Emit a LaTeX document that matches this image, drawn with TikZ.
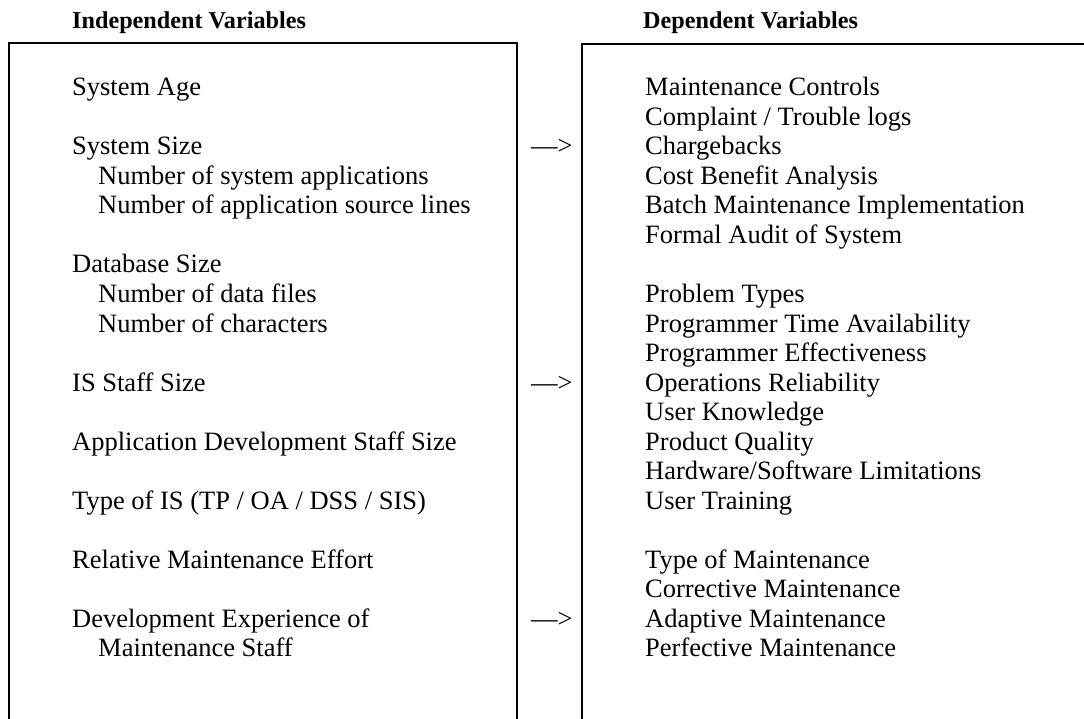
\documentclass[tikz,border=0pt]{standalone}
\usepackage{fontspec}
\setmainfont{Liberation Serif}
\begin{document}
\begin{tikzpicture}[x=1pt,y=-1pt,
  txt/.style={anchor=base west,inner sep=0pt,font=\fontsize{26.5}{30}\selectfont},
  head/.style={anchor=base west,inner sep=0pt,font=\fontsize{24.2}{26}\selectfont\bfseries},
  frame/.style={line width=1.8pt}]
\useasboundingbox (0,0) rectangle (1084,719);
\def\b{96}\def\s{29.5}
% headings
\node[head] (hind) at (72,29) {Independent Variables};
\node[head] (hdep) at (643,29) {Dependent Variables};
% frames
\draw[frame] (9,719) -- (9,43) -- (517,43) -- (517,719);
\draw[frame] (582,719) -- (582,44) -- (1084,44);
% left column
\node[txt] (l1)  at (72,\b+0*\s)  {System Age};
\node[txt] (l2)  at (72,\b+2*\s)  {System Size};
\node[txt] (l3)  at (98,\b+3*\s)  {Number of system applications};
\node[txt] (l4)  at (98,\b+4*\s)  {Number of application source lines};
\node[txt] (l5)  at (72,\b+6*\s)  {Database Size};
\node[txt] (l6)  at (98,\b+7*\s)  {Number of data files};
\node[txt] (l7)  at (98,\b+8*\s)  {Number of characters};
\node[txt] (l8)  at (72,\b+10*\s) {IS Staff Size};
\node[txt] (l9)  at (72,\b+12*\s) {Application Development Staff Size};
\node[txt] (l10) at (72,\b+14*\s) {Type of IS (TP / OA / DSS / SIS)};
\node[txt] (l11) at (72,\b+16*\s) {Relative Maintenance Effort};
\node[txt] (l12) at (72,\b+18*\s) {Development Experience of};
\node[txt] (l13) at (98,\b+19*\s) {Maintenance Staff};
% arrows
\node[txt] (a1) at (531,\b+2*\s)  {—>};
\node[txt] (a2) at (531,\b+10*\s) {—>};
\node[txt] (a3) at (531,\b+18*\s) {—>};
% right column
\node[txt] (r1)  at (645,\b+0*\s)  {Maintenance Controls};
\node[txt] (r2)  at (645,\b+1*\s)  {Complaint / Trouble logs};
\node[txt] (r3)  at (645,\b+2*\s)  {Chargebacks};
\node[txt] (r4)  at (645,\b+3*\s)  {Cost Benefit Analysis};
\node[txt] (r5)  at (645,\b+4*\s)  {Batch Maintenance Implementation};
\node[txt] (r6)  at (645,\b+5*\s)  {Formal Audit of System};
\node[txt] (r7)  at (645,\b+7*\s)  {Problem Types};
\node[txt] (r8)  at (645,\b+8*\s)  {Programmer Time Availability};
\node[txt] (r9)  at (645,\b+9*\s)  {Programmer Effectiveness};
\node[txt] (r10) at (645,\b+10*\s) {Operations Reliability};
\node[txt] (r11) at (645,\b+11*\s) {User Knowledge};
\node[txt] (r12) at (645,\b+12*\s) {Product Quality};
\node[txt] (r13) at (645,\b+13*\s) {Hardware/Software Limitations};
\node[txt] (r14) at (645,\b+14*\s) {User Training};
\node[txt] (r15) at (645,\b+16*\s) {Type of Maintenance};
\node[txt] (r16) at (645,\b+17*\s) {Corrective Maintenance};
\node[txt] (r17) at (645,\b+18*\s) {Adaptive Maintenance};
\node[txt] (r18) at (645,\b+19*\s) {Perfective Maintenance};
\end{tikzpicture}
\end{document}
